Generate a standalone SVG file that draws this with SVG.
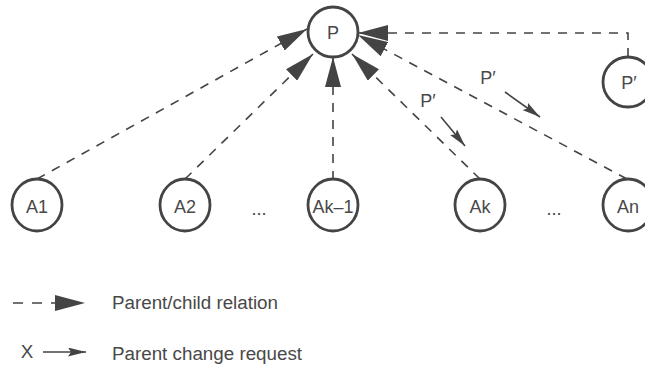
<svg xmlns="http://www.w3.org/2000/svg" width="645" height="367" viewBox="0 0 645 367">
  <style>
    .node { fill: #ffffff; stroke: #444444; stroke-width: 2.8; }
    .lbl { font-family: "Liberation Sans", Arial, Helvetica, sans-serif; font-size: 18px; fill: #484848; text-anchor: middle; }
    .leg { font-family: "Liberation Sans", Arial, Helvetica, sans-serif; font-size: 18.8px; fill: #484848; }
    .rel { fill: none; stroke: #444444; stroke-width: 1.6; stroke-dasharray: 9 8; marker-end: url(#big); }
    .req { fill: none; stroke: #444444; stroke-width: 1.6; marker-end: url(#small); }
  </style>
  <defs>
    <marker id="big" viewBox="0 0 30 16" refX="30" refY="8" markerWidth="30" markerHeight="16" markerUnits="userSpaceOnUse" orient="auto">
      <path d="M0,0 L30,8 L0,16 z" fill="#444444"/>
    </marker>
    <marker id="small" viewBox="0 0 18 9" refX="18" refY="4.5" markerWidth="18" markerHeight="9" markerUnits="userSpaceOnUse" orient="auto">
      <path d="M0,0 L18,4.5 L0,9 L3,4.5 z" fill="#444444"/>
    </marker>
  </defs>

  <g id="connectors">
    <line class="rel" x1="37" y1="179" x2="307" y2="29"/>
    <line class="rel" x1="185" y1="179" x2="313" y2="54"/>
    <line class="rel" x1="333" y1="180" x2="333" y2="57"/>
    <line class="rel" x1="480" y1="179" x2="352" y2="54"/>
    <line class="rel" x1="627" y1="179" x2="358" y2="35"/>
    <polyline class="rel" points="628,57 628,33 358,33"/>
    <line class="req" x1="505" y1="92" x2="540" y2="117"/>
    <line class="req" x1="441" y1="117" x2="465" y2="146"/>
    <text class="lbl" x="488" y="84">P′</text>
    <text class="lbl" x="428" y="107">P′</text>
  </g>

  <g id="node-P">
    <circle class="node" cx="333" cy="32" r="25"/>
    <text class="lbl" x="333" y="39">P</text>
  </g>
  <g id="node-Pprime">
    <circle class="node" cx="628" cy="82" r="25"/>
    <text class="lbl" x="629" y="89">P′</text>
  </g>
  <g id="node-A1">
    <ellipse class="node" cx="37" cy="205" rx="25" ry="26"/>
    <text class="lbl" x="37" y="213">A1</text>
  </g>
  <g id="node-A2">
    <ellipse class="node" cx="185" cy="205" rx="25" ry="26"/>
    <text class="lbl" x="185" y="213">A2</text>
  </g>
  <g id="node-Ak-1">
    <ellipse class="node" cx="333" cy="205" rx="25" ry="26"/>
    <text class="lbl" x="333" y="213">Ak–1</text>
  </g>
  <g id="node-Ak">
    <ellipse class="node" cx="480" cy="205" rx="25" ry="26"/>
    <text class="lbl" x="480" y="213">Ak</text>
  </g>
  <g id="node-An">
    <ellipse class="node" cx="628" cy="205" rx="25" ry="26"/>
    <text class="lbl" x="628" y="213">An</text>
  </g>
  <text class="lbl" x="259" y="215">...</text>
  <text class="lbl" x="554" y="215">...</text>

  <g id="legend">
    <line x1="13" y1="303" x2="85" y2="303" stroke="#444444" stroke-width="1.6" stroke-dasharray="10 9" marker-end="url(#big)"/>
    <text class="leg" x="112" y="309">Parent/child relation</text>
    <text class="leg" x="27" y="358" text-anchor="middle">X</text>
    <line class="req" x1="43" y1="352" x2="86" y2="352"/>
    <text class="leg" x="112" y="360">Parent change request</text>
  </g>
</svg>
